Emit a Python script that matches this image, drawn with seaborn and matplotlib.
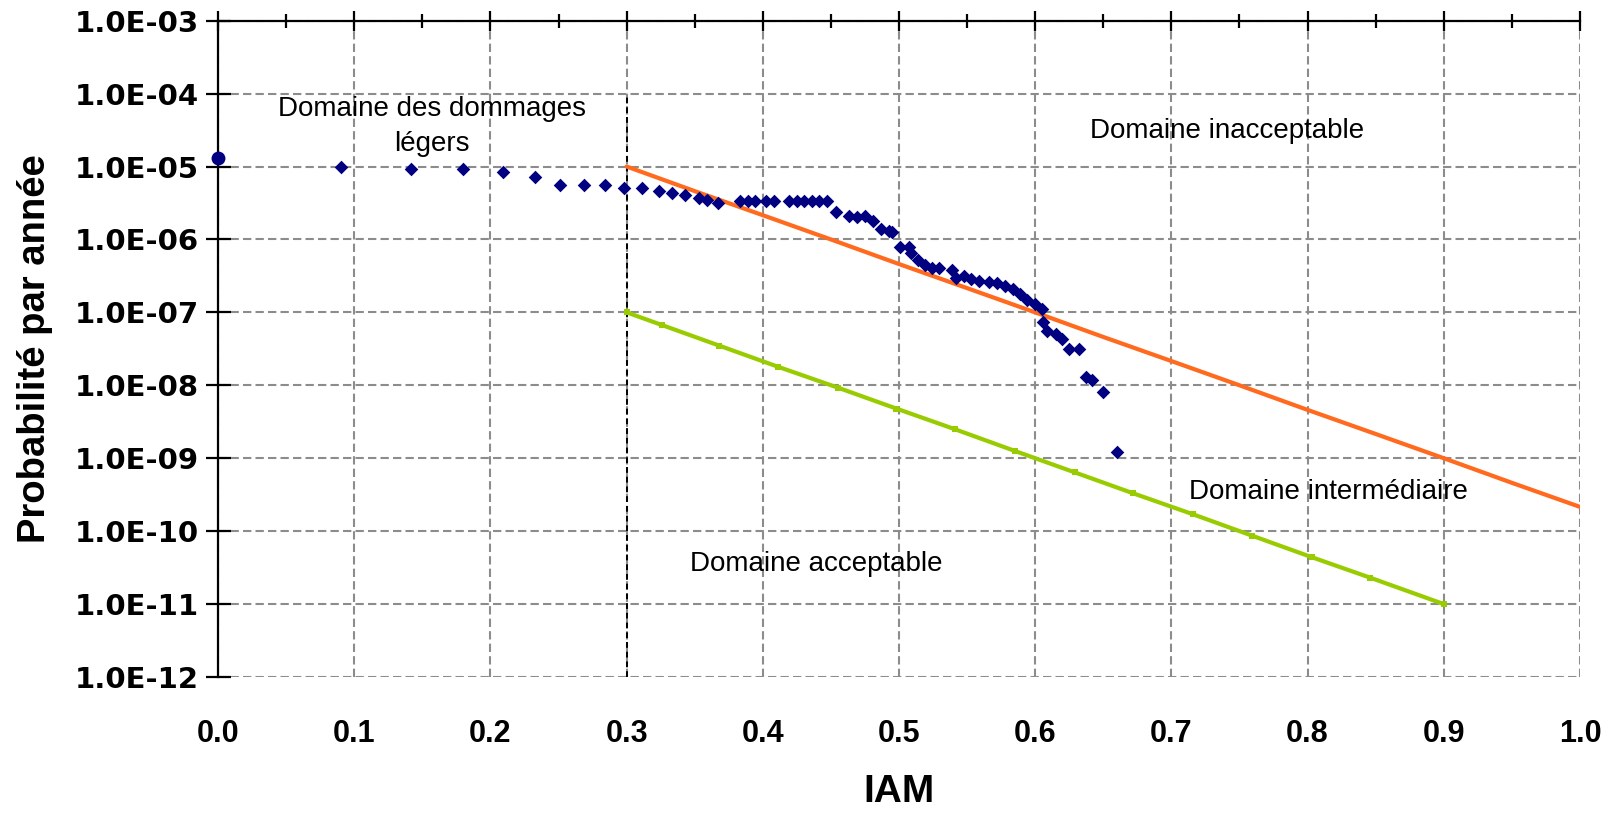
import numpy as np
import pandas as pd
import matplotlib
matplotlib.use("Agg")
import matplotlib.pyplot as plt
import seaborn as sns
from matplotlib.ticker import FixedLocator, FuncFormatter

# points IAM / probabilite
iam = [0.090, 0.142, 0.180, 0.209, 0.233, 0.251, 0.269, 0.284,
       0.298, 0.311, 0.324, 0.333, 0.343, 0.353, 0.359, 0.367,
       0.383, 0.389, 0.394, 0.402, 0.408, 0.419, 0.425, 0.430, 0.436, 0.441, 0.447,
       0.454, 0.463, 0.469, 0.475, 0.481, 0.487, 0.493, 0.495,
       0.501, 0.507, 0.509, 0.514, 0.519, 0.524, 0.529, 0.539, 0.542, 0.548,
       0.553, 0.559, 0.566, 0.572, 0.578, 0.584, 0.589, 0.594, 0.600, 0.605,
       0.606, 0.609, 0.615, 0.620, 0.625, 0.632, 0.637, 0.642, 0.650, 0.660]
proba = [1.0e-05, 9.2e-06, 9.2e-06, 8.4e-06, 7.1e-06, 5.5e-06, 5.5e-06, 5.5e-06,
         5.1e-06, 5.0e-06, 4.6e-06, 4.3e-06, 4.1e-06, 3.7e-06, 3.5e-06, 3.2e-06,
         3.4e-06, 3.4e-06, 3.4e-06, 3.4e-06, 3.4e-06, 3.4e-06, 3.4e-06, 3.4e-06, 3.4e-06, 3.4e-06, 3.4e-06,
         2.4e-06, 2.1e-06, 2.0e-06, 2.1e-06, 1.8e-06, 1.4e-06, 1.3e-06, 1.27e-06,
         7.9e-07, 7.9e-07, 6.5e-07, 5.3e-07, 4.4e-07, 4.0e-07, 4.0e-07, 3.8e-07, 3.0e-07, 3.2e-07,
         2.9e-07, 2.7e-07, 2.6e-07, 2.5e-07, 2.3e-07, 2.1e-07, 1.8e-07, 1.5e-07, 1.3e-07, 1.1e-07,
         7.3e-08, 5.6e-08, 5.0e-08, 4.3e-08, 3.1e-08, 3.1e-08, 1.3e-08, 1.2e-08, 8.0e-09, 1.2e-09]

# premier point (IAM = 0), dessine en rond
iam_0 = [0.0]
proba_0 = [1.3e-05]

# limite haute (orange)
lim_haut_x = [0.30, 0.35, 0.40, 0.45, 0.50, 0.55, 0.60, 0.65, 0.70, 0.75, 0.80, 0.85, 0.90, 0.95, 1.00]
lim_haut_y = [1.0e-05, 4.6e-06, 2.15e-06, 1.0e-06, 4.6e-07, 2.15e-07, 1.0e-07, 4.6e-08,
              2.15e-08, 1.0e-08, 4.6e-09, 2.15e-09, 1.0e-09, 4.6e-10, 2.15e-10]

# limite basse (vert)
lim_bas_x = [0.30, 0.326, 0.368, 0.411, 0.455, 0.498, 0.541, 0.585, 0.629, 0.672, 0.716,
             0.759, 0.803, 0.846, 0.90]
lim_bas_y = [1.0e-07, 6.7e-08, 3.5e-08, 1.8e-08, 9.3e-09, 4.8e-09, 2.5e-09, 1.26e-09,
             6.4e-10, 3.3e-10, 1.7e-10, 8.7e-11, 4.4e-11, 2.3e-11, 1.0e-11]

yticks = [1e-3, 1e-4, 1e-5, 1e-6, 1e-7, 1e-8, 1e-9, 1e-10, 1e-11, 1e-12]
xticks = [0.0, 0.1, 0.2, 0.3, 0.4, 0.5, 0.6, 0.7, 0.8, 0.9, 1.0]

sns.set_style("white")
plt.rcParams['font.family'] = ['Liberation Sans', 'DejaVu Sans']
plt.rcParams['text.color'] = 'black'
plt.rcParams['axes.labelcolor'] = 'black'
plt.rcParams['xtick.color'] = 'black'
plt.rcParams['ytick.color'] = 'black'

fig, ax = plt.subplots(figsize=(16.21, 8.14), dpi=100)
fig.subplots_adjust(left=0.1345, right=0.9747, top=0.9746, bottom=0.1683)

ax.set_yscale("log")
ax.set_xlim(0, 1.0)
ax.set_ylim(1e-12, 1e-3)

# grille en tirets
ax.yaxis.set_major_locator(FixedLocator(yticks))
ax.yaxis.set_minor_locator(FixedLocator([]))
ax.xaxis.set_major_locator(FixedLocator(xticks))
ax.xaxis.set_minor_locator(FixedLocator([0.05 + 0.1 * i for i in range(10)]))
ax.grid(True, which="major", color="#8c8c8c", linestyle=(0, (4, 2)), linewidth=1.5)
ax.set_axisbelow(True)

# ligne verticale a 0.3
ax.plot([0.3, 0.3], [1e-12, 1e-4], color="black", linestyle=(0, (3, 2)), linewidth=1.4, zorder=2)

sns.lineplot(x=lim_haut_x, y=lim_haut_y, ax=ax, color="#FF6A1F", linewidth=3.0, zorder=3)
sns.lineplot(x=lim_bas_x, y=lim_bas_y, ax=ax, color="#99CC00", linewidth=3.0, zorder=3,
             marker="s", markersize=4, markeredgewidth=0)
sns.scatterplot(x=iam, y=proba, ax=ax, color="#000080", marker="D", s=48,
                linewidth=0, zorder=4)
sns.scatterplot(x=iam_0, y=proba_0, ax=ax, color="#000080", marker="o", s=100,
                linewidth=0, zorder=5, clip_on=False)

ax.yaxis.set_major_formatter(FuncFormatter(lambda v, p: f"{v:.1E}"))
ax.xaxis.set_major_formatter(FuncFormatter(lambda v, p: f"{v:.1f}"))

for s in ["bottom", "right"]:
    ax.spines[s].set_visible(False)
for s in ["top", "left"]:
    ax.spines[s].set_visible(True)
    ax.spines[s].set_color("black")
    ax.spines[s].set_linewidth(1.6)

ax.tick_params(axis="y", which="major", direction="inout", length=18, width=1.6,
               pad=5, labelsize=21, left=True)
ax.tick_params(axis="x", which="major", direction="inout", length=14, width=1.6,
               top=True, bottom=False, labeltop=False, labelbottom=True,
               pad=23, labelsize=22)
ax.tick_params(axis="x", which="minor", direction="inout", length=10, width=1.6,
               top=True, bottom=False)
for lab in ax.get_xticklabels():
    lab.set_fontweight("bold")
for lab in ax.get_yticklabels():
    lab.set_fontweight("bold")
    lab.set_family(["DejaVu Sans"])

ax.set_xlabel("IAM", fontsize=28, fontweight="bold", labelpad=18)
ax.set_ylabel("Probabilité par année", fontsize=27.5, fontweight="bold", labelpad=15)

ax.text(0.157, 3.5e-5, "Domaine des dommages\nlégers", fontsize=20, ha="center", va="center",
        linespacing=1.45)
ax.text(0.741, 3.1e-5, "Domaine inacceptable", fontsize=20, ha="center", va="center")
ax.text(0.815, 3.4e-10, "Domaine intermédiaire", fontsize=20, ha="center", va="center")
ax.text(0.439, 3.5e-11, "Domaine acceptable", fontsize=20, ha="center", va="center")

fig.savefig("out.png", dpi=100)
